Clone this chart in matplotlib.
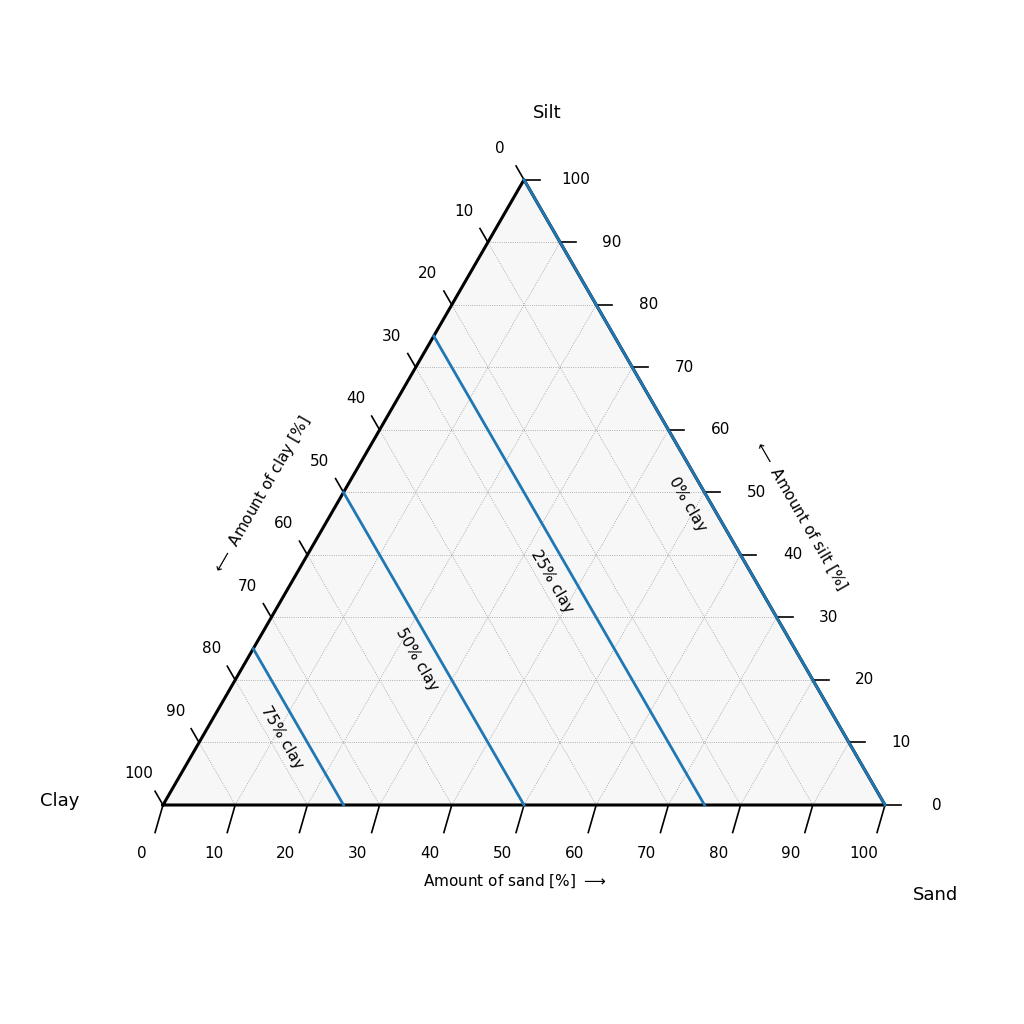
import numpy as np
import matplotlib.pyplot as plt
from matplotlib.patches import Polygon

SQ = np.sqrt(3) / 2
ticks = list(range(0, 101, 10))
clay_levels = [0, 25, 50, 75]
clay_label_pos = [(72.6, 41.7), (53.9, 31.0), (35.2, 20.2), (16.5, 9.3)]


def xy(sand, silt):
    return sand + silt / 2, silt * SQ


fig = plt.figure(figsize=(10.24, 10.24), dpi=100)
ax = fig.add_axes([0, 0, 1, 1])
ax.set_xlim(-163 / 7.22, (1024 - 163) / 7.22)
ax.set_ylim(-219 / 7.22, 805 / 7.22)
ax.set_aspect('equal')
ax.axis('off')

tri = [xy(0, 0), xy(100, 0), xy(0, 100)]
ax.add_patch(Polygon(tri, closed=True, facecolor='#f7f7f7', edgecolor='none', zorder=0))

# grid
for v in range(10, 100, 10):
    kw = dict(color='#999999', lw=0.6, ls=':', zorder=1)
    # constant sand
    p, q = xy(v, 0), xy(v, 100 - v)
    ax.plot([p[0], q[0]], [p[1], q[1]], **kw)
    # constant silt
    p, q = xy(0, v), xy(100 - v, v)
    ax.plot([p[0], q[0]], [p[1], q[1]], **kw)
    # constant clay
    p, q = xy(100 - v, 0), xy(0, 100 - v)
    ax.plot([p[0], q[0]], [p[1], q[1]], **kw)

bx = [t[0] for t in tri] + [tri[0][0]]
by = [t[1] for t in tri] + [tri[0][1]]
ax.plot(bx, by, color='black', lw=2.2, zorder=3)

# clay lines
for c, (lx, ly) in zip(clay_levels, clay_label_pos):
    p, q = xy(100 - c, 0), xy(0, 100 - c)
    ax.plot([p[0], q[0]], [p[1], q[1]], color='#1f77b4', lw=2, zorder=4)
    ax.text(lx, ly, f'{c}% clay', rotation=-60, ha='center', va='center',
            fontsize=11, rotation_mode='anchor', zorder=5)

tl = 2.2
for t in ticks:
    # bottom: sand
    x, y = xy(t, 0)
    ax.plot([x, x - tl * 0.5], [y, y - tl * SQ * 2], color='black', lw=1.2, clip_on=False)
    ax.text(x - 3.0, y - 6.7, str(t), ha='center', va='center', fontsize=11)
    # right: silt
    x, y = xy(100 - t, t)
    ax.plot([x, x + tl], [y, y], color='black', lw=1.2, clip_on=False)
    ax.text(x + 7.2, y, str(t), ha='center', va='center', fontsize=11)
    # left: clay (0 at top)
    x, y = xy(0, 100 - t)
    ax.plot([x, x - tl * 0.5], [y, y + tl * SQ], color='black', lw=1.2, clip_on=False)
    ax.text(x - 3.3, y + 4.3, str(t), ha='center', va='center', fontsize=11)

ax.text((515 - 163) / 7.22, (805 - 881) / 7.22, 'Amount of sand [%] $\\longrightarrow$',
        ha='center', va='center', fontsize=11)
ax.text((262 - 163) / 7.22, (805 - 495) / 7.22, '$\\longleftarrow$ Amount of clay [%]',
        rotation=60, ha='center', va='center', fontsize=11)
ax.text((800 - 163) / 7.22, (805 - 515) / 7.22, '$\\longleftarrow$ Amount of silt [%]',
        rotation=-60, ha='center', va='center', fontsize=11)

ax.text((60 - 163) / 7.22, (805 - 801) / 7.22, 'Clay', ha='center', va='center', fontsize=13)
ax.text((935 - 163) / 7.22, (805 - 895) / 7.22, 'Sand', ha='center', va='center', fontsize=13)
ax.text((547 - 163) / 7.22, (805 - 113) / 7.22, 'Silt', ha='center', va='center', fontsize=13)

fig.savefig('out.png', dpi=100)
